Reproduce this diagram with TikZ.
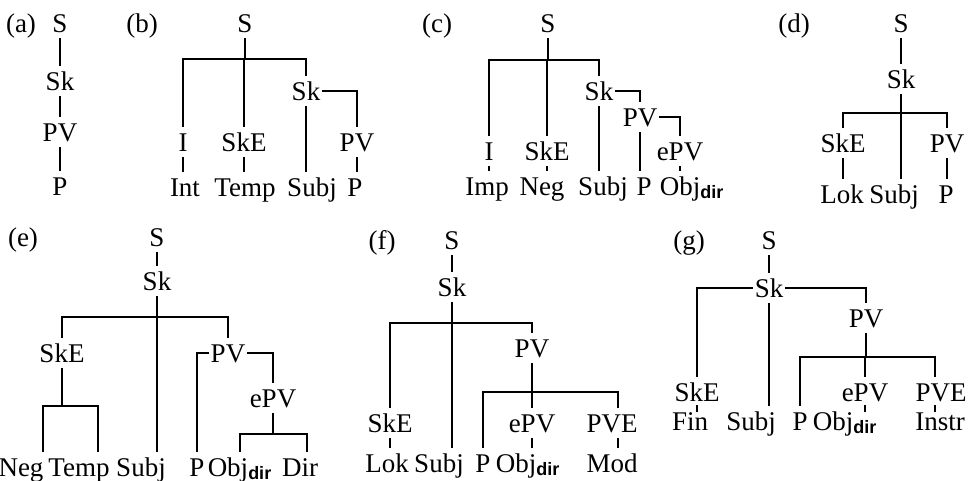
\documentclass[tikz,border=0pt]{standalone}
\usepackage{fontspec}
\setmainfont{Liberation Serif}
\setsansfont{Liberation Sans}
\usepackage{tikz}
\newcommand{\objdir}{Obj\rlap{\raisebox{-1.5pt}{\fontsize{9}{10}\selectfont\sffamily\bfseries dir}}}

\begin{document}
\begin{tikzpicture}[x=0.5pt,y=-0.5pt,line width=0.9pt,font=\fontsize{13.5}{16}\selectfont,tn/.style={inner xsep=0.5pt,inner ysep=2.5pt,text height=9.3pt,text depth=0pt}]
\useasboundingbox (0,0) rectangle (974,481);
% (a)
\node[tn] (aL) at (21,23) {(a)};
\node[tn] (aS) at (60,23) {S};
\node[tn] (aSk) at (60,81) {Sk};
\node[tn] (aPV) at (60,132) {PV};
\node[tn] (aP) at (60,186) {P};
\draw (aS)--(aSk);\draw (aSk)--(aPV);\draw (aPV)--(aP);
% (b)
\node[tn] (bL) at (142,23) {(b)};
\node[tn] (bS) at (245,23) {S};
\coordinate (bbar) at (0,59);
\node[tn] (bI) at (183,142) {I};
\node[tn] (bSkE) at (244,142) {SkE};
\node[tn] (bSk) at (306,91) {Sk};
\node[tn] (bPV) at (357,142) {PV};
\node[tn] (bInt) at (185,187) {Int};
\node[tn] (bTemp) at (245,187) {Temp};
\node[tn] (bSubj) at (312,187) {Subj};
\node[tn] (bP) at (355,187) {P};
\draw (bS)--(bS|-bbar);\draw (bI)--(bI|-bbar)--(bSk|-bbar)--(bSk);\draw (bSkE)--(bSkE|-bbar);
\draw (bSk.east)-|(bPV);\draw (bSk)--(bSk|-bSubj.north);
\draw (bI)--(bI|-bInt.north);\draw (bSkE)--(bSkE|-bTemp.north);\draw (bPV)--(bPV|-bP.north);
% (c)
\node[tn] (cL) at (437,23) {(c)};
\node[tn] (cS) at (548,23) {S};
\coordinate (cbar) at (0,60);
\node[tn] (cI) at (489,151) {I};
\node[tn] (cSkE) at (547,151) {SkE};
\node[tn] (cSk) at (599,91) {Sk};
\node[tn] (cPV) at (640,117) {PV};
\node[tn] (cePV) at (680,151) {ePV};
\node[tn] (cImp) at (487,186) {Imp};
\node[tn] (cNeg) at (542,186) {Neg};
\node[tn] (cSubj) at (603,186) {Subj};
\node[tn] (cP) at (644,186) {P};
\node[tn] (cObj) at (680,186) {\objdir};
\draw (cS)--(cS|-cbar);\draw (cI)--(cI|-cbar)--(cSk|-cbar)--(cSk);\draw (cSkE)--(cSkE|-cbar);
\draw (cSk)--(cSk|-cSubj.north);\draw (cSk.east)-|(cPV);\draw (cPV)--(cPV|-cP.north);\draw (cPV.east)-|(cePV);
\draw (cI)--(cI|-cImp.north);\draw (cSkE)--(cSkE|-cNeg.north);\draw (cePV)--(cObj);
% (d)
\node[tn] (dL) at (794,23) {(d)};
\node[tn] (dS) at (901,23) {S};
\node[tn] (dSk) at (901,79) {Sk};
\coordinate (dbar) at (0,113);
\node[tn] (dSkE) at (843,143) {SkE};
\node[tn] (dPV) at (947,143) {PV};
\node[tn] (dLok) at (842,194) {Lok};
\node[tn] (dSubj) at (894,194) {Subj};
\node[tn] (dP) at (946,194) {P};
\draw (dS)--(dSk);\draw (dSk)--(dSk|-dbar);\draw (dSkE)--(dSkE|-dbar)--(dPV|-dbar)--(dPV);
\draw (dSk|-dbar)--(dSk|-dSubj.north);\draw (dSkE)--(dSkE|-dLok.north);\draw (dPV)--(dPV|-dP.north);
% (e)
\node[tn] (eL) at (23,237) {(e)};
\node[tn] (eS) at (157,237) {S};
\node[tn] (eSk) at (157,281) {Sk};
\coordinate (ebar) at (0,317);
\node[tn] (eSkE) at (62,353) {SkE};
\node[tn] (ePV) at (228,353) {PV};
\coordinate (ebarb) at (0,406);
\node[tn] (eePV) at (273,398) {ePV};
\coordinate (ebarc) at (0,434);
\node[tn] (eNeg) at (21,467) {Neg};
\node[tn] (eTemp) at (79,467) {Temp};
\node[tn] (eSubj) at (141,467) {Subj};
\node[tn] (eP) at (197,467) {P};
\node[tn] (eObj) at (228,467) {\objdir};
\node[tn] (eDir) at (300,467) {Dir};
\draw (eS)--(eSk);\draw (eSk)--(eSk|-eSubj.north);\draw (eSkE)--(eSkE|-ebar)--(ePV|-ebar)--(ePV);
\draw (ePV.west)-|(eP);\draw (ePV.east)-|(eePV);
\draw (eSkE)--(eSkE|-ebarb);\draw ([xshift=11pt]eNeg.north)|-(eSkE|-ebarb)-|([xshift=9.5pt]eTemp.north);
\draw (eePV)--(eePV|-ebarc);\draw ([xshift=6pt]eObj.north)|-(eePV|-ebarc)-|([xshift=3.5pt]eDir.north);
% (f)
\node[tn] (fL) at (382,240) {(f)};
\node[tn] (fS) at (452,240) {S};
\node[tn] (fSk) at (452,287) {Sk};
\coordinate (fbar) at (0,323);
\node[tn] (fSkE) at (390,423) {SkE};
\node[tn] (fPV) at (532,348) {PV};
\coordinate (fbarb) at (0,392);
\node[tn] (fePV) at (532,423) {ePV};
\node[tn] (fPVE) at (612,423) {PVE};
\node[tn] (fLok) at (387,463) {Lok};
\node[tn] (fSubj) at (439,463) {Subj};
\node[tn] (fP) at (483,463) {P};
\node[tn] (fObj) at (516,463) {\objdir};
\node[tn] (fMod) at (612,463) {Mod};
\draw (fS)--(fSk);\draw (fSk)--(fSk|-fSubj.north);\draw (fSkE)--(fSkE|-fbar)--(fPV|-fbar)--(fPV);
\draw (fPV)--(fPV|-fbarb);\draw (fP)|-(fPV|-fbarb)-|([xshift=3pt]fPVE.north);\draw (fePV)--(fePV|-fbarb);
\draw (fSkE)--(fSkE|-fLok.north);\draw (fePV)--(fePV|-fObj.north);\draw ([xshift=3pt]fPVE.south)--([xshift=3pt]fMod.north);
% (g)
\node[tn] (gL) at (689,240) {(g)};
\node[tn] (gS) at (769,240) {S};
\node[tn] (gSk) at (769,288) {Sk};
\node[tn] (gSkE) at (697,392) {SkE};
\node[tn] (gPV) at (866,318) {PV};
\coordinate (gbar) at (0,357);
\node[tn] (gePV) at (865,392) {ePV};
\node[tn] (gPVE) at (941,392) {PVE};
\node[tn] (gFin) at (690,421) {Fin};
\node[tn] (gSubj) at (751,421) {Subj};
\node[tn] (gP) at (800,421) {P};
\node[tn] (gObj) at (833,421) {\objdir};
\node[tn] (gInstr) at (940,421) {Instr};
\draw (gS)--(gSk);\draw (gSk.west)-|(gSkE);\draw (gSk.east)-|(gPV);\draw (gSk)--(gSk|-gSubj.north);
\draw (gPV)--(gPV|-gbar);\draw (gP)|-(gePV|-gbar)-|([xshift=-3pt]gPVE.north);\draw (gePV)--(gePV|-gbar);
\draw ([yshift=1pt]gSkE.south)--([yshift=-3pt]gSkE.south|-gFin.north);
\draw ([yshift=1pt]gePV.south)--([yshift=-3pt]gePV.south|-gObj.north);
\draw ([xshift=-3pt,yshift=1pt]gPVE.south)--([xshift=-3pt,yshift=-3pt]gPVE.south|-gInstr.north);
\end{tikzpicture}
\end{document}
